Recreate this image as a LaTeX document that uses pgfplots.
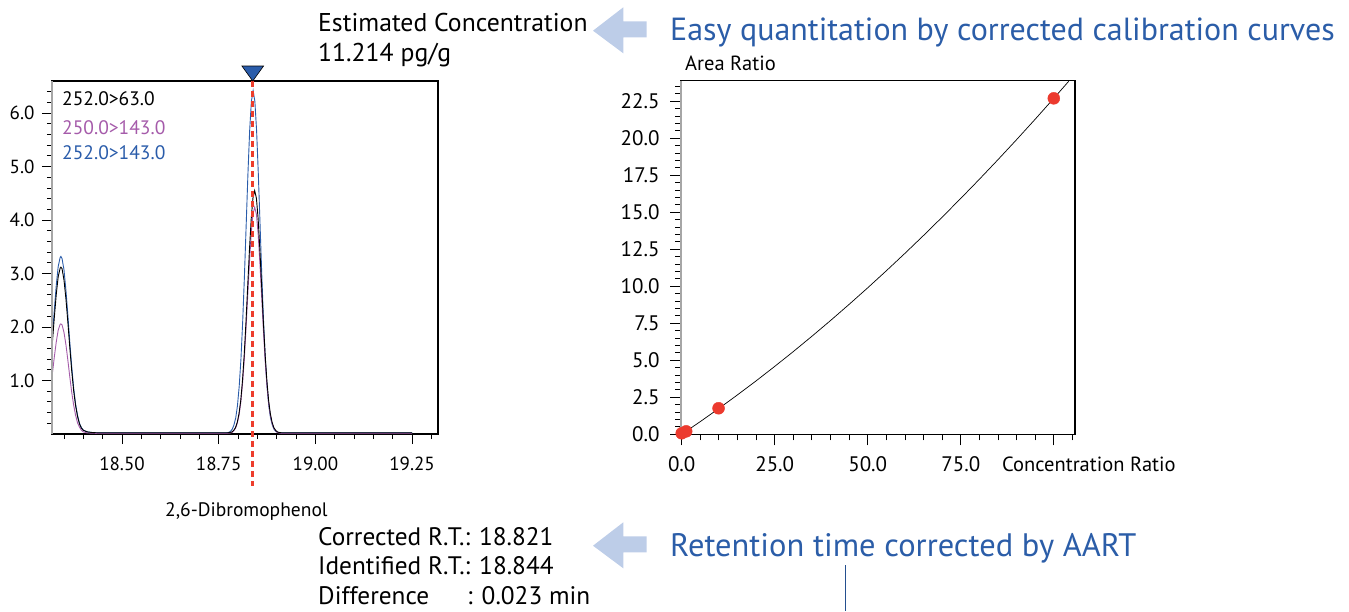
\documentclass[border=0pt]{standalone}
\usepackage{fontspec}
\setmainfont{PT Sans}
\usepackage{pgfplots}
\pgfplotsset{compat=1.18}
\definecolor{txtblue}{HTML}{2B5DA8}
\definecolor{lnblue}{HTML}{2A5CAA}
\definecolor{lnpurple}{HTML}{A55BAA}
\definecolor{arrowblue}{HTML}{BDCDE8}
\definecolor{dotred}{HTML}{EC3A2E}
\newcommand{\fs}[1]{\fontsize{#1}{#1}\selectfont}

% chromatogram traces (retention time, intensity)
\pgfplotstableread{
t y
18.320 1.82
18.325 2.32
18.330 2.78
18.335 3.13
18.340 3.30
18.342 3.32
18.345 3.28
18.350 3.07
18.355 2.69
18.360 2.22
18.365 1.72
18.370 1.26
18.375 0.86
18.380 0.56
18.385 0.35
18.390 0.20
18.395 0.12
18.400 0.07
18.410 0.04
18.420 0.03
18.440 0.02
18.767 0.02
18.776 0.03
18.7805 0.05
18.785 0.09
18.7895 0.17
18.794 0.30
18.7985 0.53
18.803 0.89
18.8075 1.40
18.812 2.10
18.8165 2.95
18.821 3.90
18.8255 4.85
18.830 5.67
18.8345 6.22
18.839 6.42
18.8435 6.22
18.848 5.67
18.8525 4.85
18.857 3.90
18.8615 2.95
18.866 2.10
18.8705 1.40
18.875 0.89
18.8795 0.53
18.884 0.30
18.8885 0.17
18.893 0.09
18.8975 0.05
18.902 0.03
18.911 0.02
19.250 0.02
}\bluetrace
\pgfplotstableread{
t y
18.320 1.13
18.325 1.44
18.330 1.72
18.335 1.94
18.340 2.05
18.342 2.06
18.345 2.04
18.350 1.90
18.355 1.67
18.360 1.38
18.365 1.07
18.370 0.78
18.375 0.54
18.380 0.35
18.385 0.21
18.390 0.13
18.395 0.07
18.400 0.04
18.410 0.02
18.440 0.01
18.771 0.01
18.780 0.02
18.7845 0.03
18.789 0.06
18.7935 0.11
18.798 0.20
18.8025 0.35
18.807 0.58
18.8115 0.93
18.816 1.38
18.8205 1.95
18.825 2.58
18.8295 3.20
18.834 3.74
18.8385 4.11
18.843 4.24
18.8475 4.11
18.852 3.74
18.8565 3.20
18.861 2.58
18.8655 1.95
18.870 1.38
18.8745 0.93
18.879 0.58
18.8835 0.35
18.888 0.20
18.8925 0.11
18.897 0.06
18.9015 0.03
18.906 0.02
18.915 0.01
19.250 0.01
}\purpletrace
\pgfplotstableread{
t y
18.320 1.71
18.325 2.18
18.330 2.61
18.335 2.94
18.340 3.10
18.342 3.12
18.345 3.09
18.350 2.88
18.355 2.53
18.360 2.09
18.365 1.62
18.370 1.18
18.375 0.81
18.380 0.53
18.385 0.33
18.390 0.19
18.395 0.11
18.400 0.07
18.410 0.04
18.420 0.03
18.440 0.02
18.771 0.02
18.780 0.03
18.7845 0.04
18.789 0.07
18.7935 0.12
18.798 0.22
18.8025 0.38
18.807 0.63
18.8115 1.00
18.816 1.49
18.8205 2.09
18.825 2.77
18.8295 3.44
18.834 4.02
18.8385 4.41
18.843 4.55
18.8475 4.41
18.852 4.02
18.8565 3.44
18.861 2.77
18.8655 2.09
18.870 1.49
18.8745 1.00
18.879 0.63
18.8835 0.38
18.888 0.22
18.8925 0.12
18.897 0.07
18.9015 0.04
18.906 0.03
18.915 0.02
19.250 0.02
}\blacktrace

% calibration curve and standards
\pgfplotstableread{
c r
0 0
5 0.860
10 1.748
15 2.666
20 3.612
25 4.588
30 5.592
35 6.626
40 7.688
45 8.780
50 9.900
55 11.050
60 12.228
65 13.436
70 14.672
75 15.938
80 17.232
85 18.556
90 19.908
95 21.290
100 22.700
104 23.850
}\calcurve
\pgfplotstableread{
c r
0.0 0.07
1.2 0.20
9.9 1.76
100.0 22.70
}\calpoints

\begin{document}
\begin{tikzpicture}
\path[use as bounding box] (0,0) rectangle (1349pt,-611pt);

\pgfplotsset{
  chrom/.style={
    scale only axis,
    tick align=outside,
    tick pos=left,
    axis line style={black, line width=1.1pt},
    tick style={black, line width=0.9pt},
    /pgf/number format/assume math mode=true,
  }
}

% ---------------- chromatogram ----------------
\begin{axis}[chrom,
  at={(52pt,-434pt)}, anchor=south west,
  width=386pt, height=353pt,
  xmin=18.319, xmax=19.317, ymin=0, ymax=6.6,
  ticklabel style={font=\fs{19}},
  xtick={18.5,18.75,19,19.25},
  minor xtick={18.35,18.40,18.45,18.55,18.60,18.65,18.70,18.80,18.85,18.90,18.95,19.05,19.10,19.15,19.20,19.30},
  ytick={1,2,3,4,5,6},
  minor ytick={0.2,0.4,0.6,0.8,1.2,1.4,1.6,1.8,2.2,2.4,2.6,2.8,3.2,3.4,3.6,3.8,4.2,4.4,4.6,4.8,5.2,5.4,5.6,5.8,6.2,6.4},
  xticklabel style={yshift=-9pt, /pgf/number format/.cd, fixed, fixed zerofill, precision=2},
  yticklabel style={xshift=-4pt, /pgf/number format/.cd, fixed, fixed zerofill, precision=1},
  major tick length=10pt, minor tick length=5pt,
  clip=false,
]
\addplot[lnblue, line width=0.9pt] table[x=t,y=y] {\bluetrace};
\addplot[lnpurple, line width=0.9pt] table[x=t,y=y] {\purpletrace};
\addplot[black, line width=0.9pt] table[x=t,y=y] {\blacktrace};
\draw[gray!70, line width=2pt] (rel axis cs:0,0) -- (rel axis cs:0,1);
\addplot[dotred!95!orange, line width=3pt, dash pattern=on 6pt off 4pt] coordinates {(18.838,6.6) (18.838,-0.98)};
\addplot[only marks, mark=triangle*, mark size=10pt,
  mark options={rotate=180, xscale=1.25, fill=lnblue, draw=black, line width=0.6pt}]
  coordinates {(18.838,6.787)};
\end{axis}

% ---------------- calibration curve ----------------
\begin{axis}[chrom,
  at={(681pt,-434.3pt)}, anchor=south west,
  width=394pt, height=353.6pt,
  xmin=-0.19, xmax=105.7, ymin=0, ymax=23.89,
  ticklabel style={font=\fs{21}},
  xtick={0,25,50,75,100},
  xticklabels={0.0,25.0,50.0,75.0,{}},
  minor xtick={5,10,15,20,30,35,40,45,55,60,65,70,80,85,90,95,105},
  ytick={0,2.5,5,7.5,10,12.5,15,17.5,20,22.5},
  minor ytick={0.5,1,1.5,2,3,3.5,4,4.5,5.5,6,6.5,7,8,8.5,9,9.5,10.5,11,11.5,12,13,13.5,14,14.5,15.5,16,16.5,17,18,18.5,19,19.5,20.5,21,21.5,22,23,23.5},
  xticklabel style={yshift=-8pt},
  yticklabel style={xshift=-7pt, /pgf/number format/.cd, fixed, fixed zerofill, precision=1},
  major tick length=11pt, minor tick length=6pt,
  clip mode=individual,
]
\addplot[black, line width=0.7pt] table[x=c,y=r] {\calcurve};
\draw[gray!70, line width=2pt] (rel axis cs:0,0) -- (rel axis cs:0,1);
\addplot[dotred, only marks, mark=*, mark size=6pt, mark options={fill=dotred, draw=dotred}]
  table[x=c,y=r] {\calpoints};
\end{axis}

% ---------------- labels ----------------
\node[anchor=base west, inner sep=0pt, font=\fs{19.5}] at (62pt,-105pt) {252.0>63.0};
\node[anchor=base west, inner sep=0pt, font=\fs{19.5}, text=lnpurple] at (62pt,-134pt) {250.0>143.0};
\node[anchor=base west, inner sep=0pt, font=\fs{19.5}, text=lnblue] at (62pt,-159pt) {252.0>143.0};
\node[anchor=base west, inner sep=0pt, font=\fs{19.5}] at (165pt,-516pt) {2,6-Dibromophenol};
\node[anchor=base west, inner sep=0pt, font=\fs{20.5}] at (685pt,-70pt) {Area Ratio};
\node[anchor=base west, inner sep=0pt, font=\fs{20.5}] at (1002pt,-471pt) {Concentration Ratio};

\node[anchor=base west, inner sep=0pt, font=\fs{25.7}] at (318pt,-31pt) {Estimated Concentration};
\node[anchor=base west, inner sep=0pt, font=\fs{25.7}] at (318pt,-61pt) {11.214 pg/g};
\node[anchor=base west, inner sep=0pt, font=\fs{32}, text=txtblue] at (670pt,-40pt) {Easy quantitation by corrected calibration curves};

\node[anchor=base west, inner sep=0pt, font=\fs{25.3}] at (318pt,-545pt) {Corrected R.T.: 18.821};
\node[anchor=base west, inner sep=0pt, font=\fs{25.3}] at (318pt,-574.5pt) {Identified R.T.: 18.844};
\node[anchor=base west, inner sep=0pt, font=\fs{25.3}] at (318pt,-604pt) {Difference};
\node[anchor=base west, inner sep=0pt, font=\fs{25.3}] at (467pt,-604pt) {: 0.023 min};
\node[anchor=base west, inner sep=0pt, font=\fs{32.5}, text=txtblue] at (670pt,-556pt) {Retention time corrected by AART};

% arrows
\fill[arrowblue] (593pt,-30.7pt) -- (623.3pt,-7.3pt) -- (623.3pt,-21.3pt) -- (646.7pt,-21.3pt)
  -- (646.7pt,-37.3pt) -- (623.3pt,-37.3pt) -- (623.3pt,-53.3pt) -- cycle;
\fill[arrowblue] (593pt,-545.7pt) -- (623.3pt,-522.3pt) -- (623.3pt,-536.3pt) -- (646.7pt,-536.3pt)
  -- (646.7pt,-552.3pt) -- (623.3pt,-552.3pt) -- (623.3pt,-568.3pt) -- cycle;
\draw[txtblue!85!black, line width=1.5pt] (845.7pt,-565pt) -- (845.7pt,-611pt);
\end{tikzpicture}
\end{document}
